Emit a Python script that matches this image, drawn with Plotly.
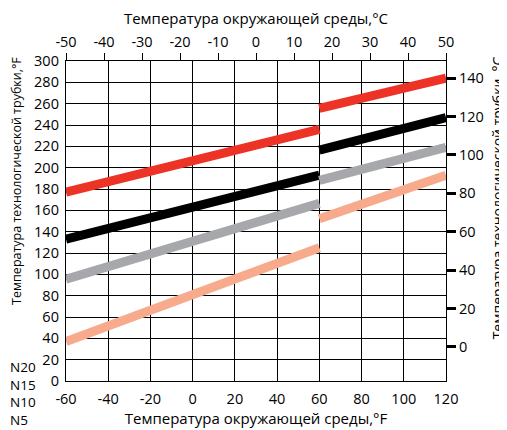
import plotly.graph_objects as go

# ---- data (°F) ----
x_f = [-60, 60, None, 60, 120]
series_names = ["N20", "N15", "N10", "N5"]
n20 = [177, 236, None, 255.5, 284]
n15 = [133, 193, None, 216.5, 247]
n10 = [95.5, 166.5, None, 188, 219]
n5 = [37, 125, None, 152, 193]
series_values = [n20, n15, n10, n5]
colors = ["#ec3326", "#000000", "#a7a8ab", "#f7aa8c"]

x_f_ticks = [-60, -40, -20, 0, 20, 40, 60, 80, 100, 120]
x_f_labels = ["-60", "-40", "-20", "0", "20", "40", "60", "80", "100", "120"]
x_c_ticks = [-50, -40, -30, -20, -10, 0, 10, 20, 30, 40, 50]
x_c_labels = ["-50", "-40", "-30", "-20", "-10", "0", "10", "20", "30", "40", "50"]
y_f_ticks = list(range(0, 301, 20))
y_c_ticks = [0, 20, 40, 60, 80, 100, 120, 140]

FONT = "Open Sans"
OFF = 8  # page body margin
W, H = 499, 422
ML, MT = 58, 53
MR = W - (445.7 - OFF)
MB = H - (381 - OFF)
PW = W - ML - MR
PH = H - MT - MB

fig = go.Figure()
for name, vals, col in zip(series_names, series_values, colors):
    fig.add_trace(go.Scatter(x=x_f, y=vals, mode="lines", name=name,
                             line=dict(color=col, width=9),
                             connectgaps=False, showlegend=False,
                             xaxis="x", yaxis="y"))
fig.add_trace(go.Scatter(x=[0], y=[0], xaxis="x2", yaxis="y2", mode="markers",
                         marker=dict(opacity=0), showlegend=False, hoverinfo="skip"))

axis_font = dict(family=FONT, size=14.5, color="#000")
fig.update_layout(
    width=W, height=H,
    margin=dict(l=ML, r=MR, t=MT, b=MB, autoexpand=False),
    paper_bgcolor="white", plot_bgcolor="white",
    font=dict(family=FONT, size=14, color="#000"),
    xaxis=dict(range=[-60, 120], tickvals=x_f_ticks, ticktext=x_f_labels, showgrid=True,
               gridcolor="#000", gridwidth=1.3, zeroline=False,
               showline=True, linecolor="#000", linewidth=1.3, mirror=True,
               ticks="outside", ticklen=4, tickcolor="rgba(0,0,0,0)",
               tickfont=axis_font,
               title=dict(text="Температура окружающей среды,°F",
                          font=dict(family=FONT, size=15), standoff=0)),
    yaxis=dict(range=[0, 300], tickvals=y_f_ticks, showgrid=True,
               gridcolor="#000", gridwidth=1.3, zeroline=False,
               showline=True, linecolor="#000", linewidth=1.3, mirror=True,
               ticks="outside", ticklen=3, tickcolor="rgba(0,0,0,0)",
               tickfont=axis_font),
    xaxis2=dict(range=[-50, 50], tickvals=x_c_ticks, ticktext=x_c_labels,
                overlaying="x", side="top",
                showgrid=False, zeroline=False, showline=True, linecolor="#000",
                linewidth=1, ticks="outside", ticklen=7, tickwidth=1, tickcolor="#000",
                tickfont=axis_font,
                title=dict(text="Температура окружающей среды,°C",
                           font=dict(family=FONT, size=15), standoff=4)),
    yaxis2=dict(range=[(0 - 32) / 1.8, (300 - 32) / 1.8], tickvals=y_c_ticks,
                overlaying="y", side="right", showgrid=False, zeroline=False,
                showline=False, ticks="outside", ticklen=9, tickwidth=3,
                tickcolor="#000", tickfont=axis_font),
)

def px_x(p):  # page pixel -> paper
    return (p - OFF - ML) / PW

def px_y(p):
    return (H - MB - (p - OFF)) / PH

ann = [
    dict(text="Температура технологической трубки,°F", x=px_x(16), y=px_y(181),
         textangle=-90, font=dict(family=FONT, size=12.5)),
    dict(text="Температура технологической трубки, °C", x=px_x(497), y=px_y(198),
         textangle=-90, font=dict(family=FONT, size=14)),
    dict(text="<br>".join(series_names), x=px_x(8), y=px_y(393), xanchor="left",
         align="left", font=dict(family=FONT, size=13.5)),
]
for a in ann:
    a.update(xref="paper", yref="paper", showarrow=False)
    a.setdefault("xanchor", "center")
    a.setdefault("yanchor", "middle")
fig.update_layout(annotations=ann)

fig.write_html("out.html")
